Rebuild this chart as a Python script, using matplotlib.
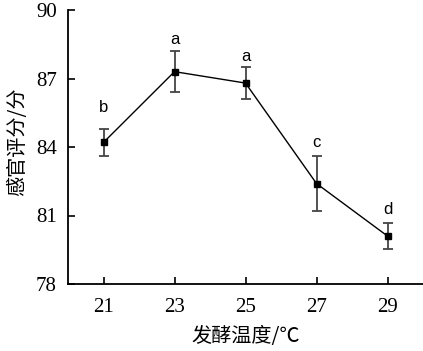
import matplotlib
matplotlib.use("Agg")
import matplotlib.pyplot as plt

# 数据
temps = [21, 23, 25, 27, 29]
scores = [84.2, 87.3, 86.8, 82.4, 80.1]
errs = [0.6, 0.9, 0.7, 1.2, 0.58]
letters = ["b", "a", "a", "c", "d"]
letter_y = [85.75, 88.7, 87.95, 84.2, 81.25]

plt.rcParams["font.family"] = ["Liberation Serif", "Noto Sans CJK SC"]

fig = plt.figure(figsize=(4.23, 3.51), dpi=100)
ax = fig.add_axes([68 / 423, (351 - 284) / 351, (423 - 68) / 423, (284 - 10) / 351])

ax.errorbar(temps, scores, yerr=errs, fmt="s-", color="black", ms=5, lw=1,
            ecolor="#444444", elinewidth=1.3, capsize=3.5, capthick=1.3)

for x, y, t in zip(temps, letter_y, letters):
    ax.text(x, y, t, ha="center", va="center", fontsize=12,
            family=["Liberation Sans"])

ax.set_xlim(20, 30)
ax.set_ylim(78, 90)
ax.set_xticks(temps)
ax.set_yticks([78, 81, 84, 87, 90])
ax.tick_params(direction="in", length=5, width=1.2, labelsize=15)
ax.tick_params(axis="x", pad=10)
ax.tick_params(axis="y", pad=8)
for s in ["top", "right"]:
    ax.spines[s].set_visible(False)
for s in ["left", "bottom"]:
    ax.spines[s].set_linewidth(1.3)

ax.set_xlabel("发酵温度/℃", fontsize=14.5, family=["Noto Sans CJK SC"],
              fontweight="light", va="center")
ax.set_ylabel("感官评分/分", fontsize=14.5, family=["Noto Sans CJK SC"],
              fontweight="light", va="center")
ax.xaxis.set_label_coords(0.5, -0.193)
ax.yaxis.set_label_coords(-0.141, 0.518)

fig.savefig("out.png", dpi=100)
